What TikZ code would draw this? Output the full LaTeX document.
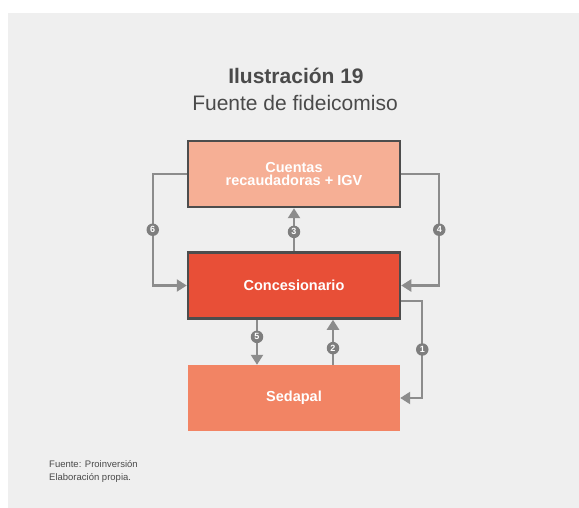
\documentclass[tikz,border=0pt]{standalone}
\usepackage{fontspec}
\setmainfont{Liberation Sans}
\usepackage{tikz}
\usetikzlibrary{positioning, arrows.meta}

\definecolor{panelgray}{HTML}{EFEFEF}
\definecolor{titlegray}{HTML}{4A4A4A}
\definecolor{edgegray}{HTML}{4D4D4D}
\definecolor{flowgray}{HTML}{8C8C8C}
\definecolor{cuentasfill}{HTML}{F6AF95}
\definecolor{concfill}{HTML}{E84F37}
\definecolor{sedapalfill}{HTML}{F28464}

\tikzset{
    box/.style={minimum width=212pt, minimum height=66pt, inner sep=0pt,
        text=white, font=\fontsize{14.5}{15}\selectfont\bfseries, align=center},
    flow/.style={draw=flowgray, line width=2.3pt, -{Triangle[length=10pt, width=12pt]}},
    num/.style={circle, fill=flowgray!90!black, text=white, inner sep=0pt,
        minimum size=12.5pt, font=\fontsize{9}{9}\selectfont\bfseries}
}

\begin{document}
\begin{tikzpicture}[x=1pt, y=-1pt]
    % Background and panel
    \fill[white] (0,0) rectangle (579,508);
    \fill[panelgray] (8,13) rectangle (579,508);
    \useasboundingbox (0,0) rectangle (579,508);

    % Title
    \node[titlegray, font=\fontsize{21}{24}\selectfont\bfseries] (title) at (296,76) {Ilustración 19};
    \node[titlegray, font=\fontsize{21}{24}\selectfont] (subtitle) at (295,103) {Fuente de fideicomiso};

    % Boxes
    \node[box, fill=cuentasfill, draw=edgegray, line width=2.5pt] (cuentas) at (294,174) {Cuentas\\[-2pt]recaudadoras + IGV};
    \node[box, fill=concfill, draw=edgegray, line width=2.5pt] (conc) at (294,285.5) {Concesionario};
    \node[box, fill=sedapalfill] (sedapal) at (294,398) {Sedapal};

    % Flows between boxes
    \draw[flow] (cuentas.west) -- ++(-34,0) |- node[num, pos=0.25] {6} (conc.west);
    \draw[flow] (cuentas.east) -- ++(38,0) |- node[num, pos=0.25] {4} (conc.east);
    \draw[flow] (conc.north) -- node[num, pos=0.45] {3} (cuentas.south);
    \draw[flow] ([xshift=-37pt]conc.south) -- node[num, pos=0.38] {5} ([xshift=-37pt]sedapal.north);
    \draw[flow] ([xshift=39pt]sedapal.north) -- node[num, pos=0.37] {2} ([xshift=39pt]conc.south);
    \draw[flow] ([yshift=-15.5pt]conc.east) -- ++(21,0) |- node[num, pos=0.25] {1} (sedapal.east);

    % Source note
    \node[titlegray, anchor=west, align=left, inner sep=0pt, font=\fontsize{9.5}{13}\selectfont] (note) at (49,471)
        {Fuente: Proinversión\\Elaboración propia.};
\end{tikzpicture}
\end{document}
